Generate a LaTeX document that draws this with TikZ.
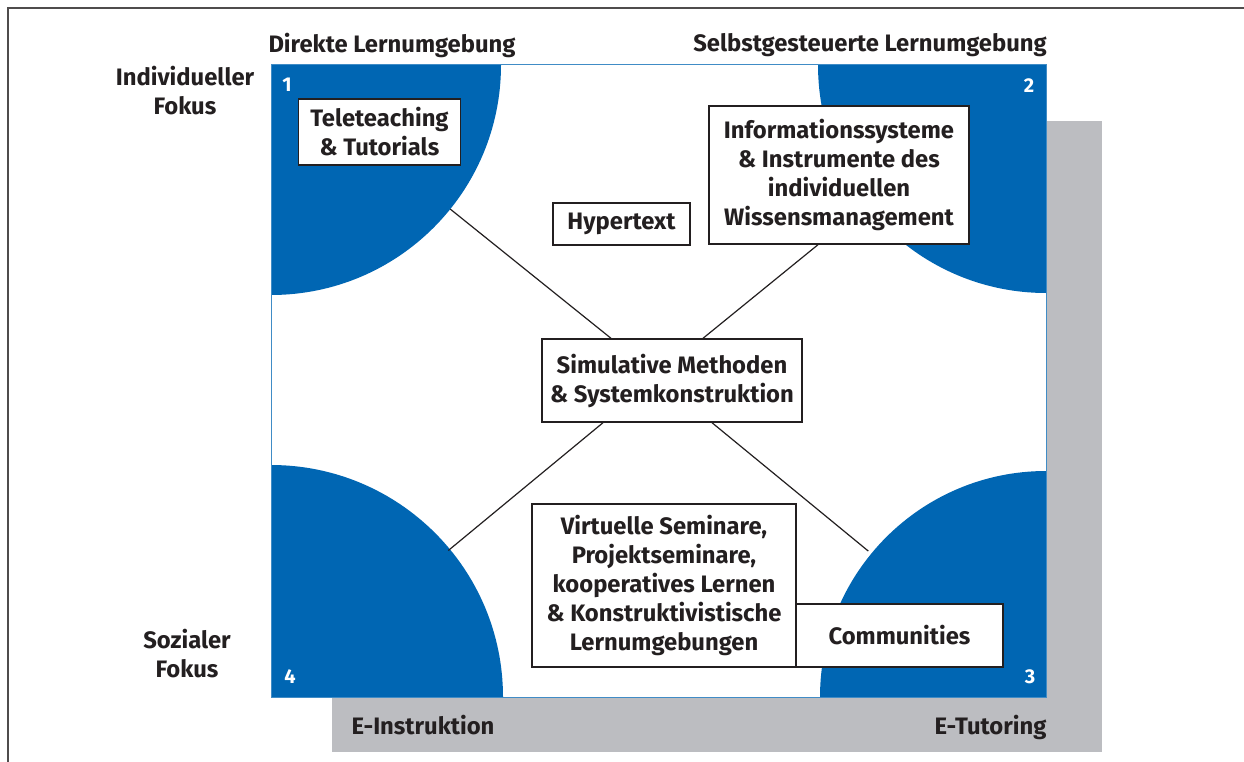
\documentclass[tikz,border=0pt]{standalone}
\usepackage{fontspec}
\setmainfont{Fira Sans}
\usepackage{tikz}
\usetikzlibrary{positioning}
\usetikzlibrary{calc}

\definecolor{fokusblau}{RGB}{0,102,179}
\definecolor{schatten}{RGB}{188,189,193}
\definecolor{schrift}{RGB}{35,31,32}

\begin{document}
\begin{tikzpicture}[x=1pt, y=-1pt, text=schrift,
    font=\bfseries\fontsize{23.8}{29}\selectfont,
    kasten/.style={draw=schrift, line width=1.4pt, fill=white, align=center, inner sep=0pt},
    nummer/.style={text=white, font=\bfseries\fontsize{20}{22}\selectfont},
    titel/.style={align=center},
    verbindung/.style={draw=schrift, line width=1.2pt}]

  \useasboundingbox (0,0) rectangle (1244,762);

	%frame
  \draw[schrift!80, line width=1.5pt] (8,762) -- (8,8) -- (1244,8);

	%shadow and field
  \fill[schatten] (332,121) rectangle (1102,752);
  \fill[white] (271,65) rectangle (1046,697);

  \coordinate (c1) at (271,65);
  \coordinate (c2) at (1046,65);
  \coordinate (c3) at (1046,697);
  \coordinate (c4) at (271,697);

  \def\r{230};

	%quarter circles
  \begin{scope}
    \clip (c1) rectangle (c3);
    \foreach \p/\rad in {c1/230, c2/228, c3/226, c4/232}{
      \fill[fokusblau] (\p) circle[radius=\rad];
    }
  \end{scope}
  \draw[fokusblau!75, line width=1pt] (c1) rectangle (c3);

	%numbers
  \foreach \i/\pos in {1/{(287,85)}, 2/{(1029,86)}, 3/{(1030,677)}, 4/{(290,677)}}{
    \node[nummer] (n\i) at \pos {\i};
  }

	%boxes
  \node[kasten, minimum width=162pt, minimum height=66pt] (tele) at (379.5,132) {Teleteaching\\\& Tutorials};
  \node[kasten, minimum width=137pt, minimum height=42pt] (hyper) at (621.5,224) {Hypertext};
  \node[kasten, minimum width=260pt, minimum height=138pt] (info) at (839,175) {Informationssysteme\\\& Instrumente des\\individuellen\\Wissensmanagement};
  \node[kasten, minimum width=260pt, minimum height=83pt] (simu) at (672,380.5) {Simulative Methoden\\\& Systemkonstruktion};
  \node[kasten, minimum width=264pt, minimum height=163pt] (virt) at (664,585.5) {Virtuelle Seminare,\\Projektseminare,\\kooperatives Lernen\\\& Konstruktivistische\\Lernumgebungen};
  \node[kasten, minimum width=207pt, minimum height=63pt] (comm) at (899.5,635.5) {Communities};

	%connectors
  \coordinate (s1) at ([xshift=-61pt]simu.north);
  \coordinate (s2) at ([xshift=31pt]simu.north);
  \coordinate (s3) at ([xshift=-69pt]simu.south);
  \coordinate (s4) at ([xshift=40pt]simu.south);
  \draw[verbindung] (s1) -- ($(c1)!\r pt!(s1)$);
  \draw[verbindung] (s2) -- ([xshift=-21pt]info.south);
  \draw[verbindung] (s3) -- ($(c4)!\r pt!(s3)$);
  \draw[verbindung] (s4) -- ($(c3)!\r pt!(s4)$);

	%labels
  \node (direkt) at (392,45) {Direkte Lernumgebung};
  \node (selbst) at (870,45) {Selbstgesteuerte Lernumgebung};
  \node[titel] (indiv) at (185,91) {Individueller\\Fokus};
  \node[titel] (sozial) at (187,654) {Sozialer\\Fokus};
  \node (instr) at (423,725) {E-Instruktion};
  \node[anchor=east] (tutor) at (1050,727) {E-Tutoring};

\end{tikzpicture}
\end{document}
